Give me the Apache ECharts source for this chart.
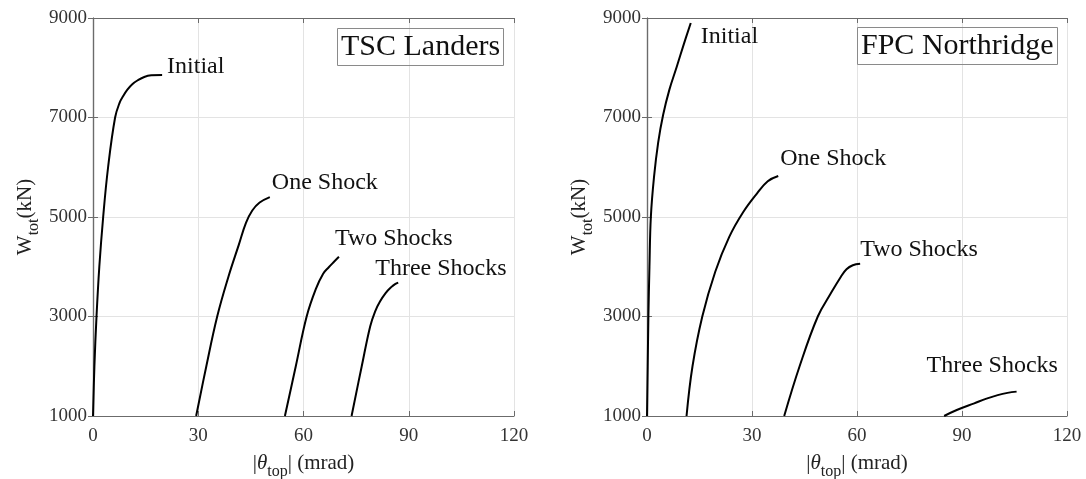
<!DOCTYPE html>
<html>
<head>
<meta charset="utf-8">
<script src="https://cdn.jsdelivr.net/npm/echarts@6/dist/echarts.min.js"></script>
<style>
  html, body { margin: 0; padding: 0; background: #fff; }
  #chart { width: 1086px; height: 479px; }
</style>
</head>
<body>
<div id="chart"></div>
<script>
// Pushover curves: total weight W_tot (kN) vs top rotation |theta_top| (mrad)
const xTicks = [0, 30, 60, 90, 120];
const yTicks = [1000, 3000, 5000, 7000, 9000];
const curveNames = ['Initial', 'One Shock', 'Two Shocks', 'Three Shocks'];

// TSC Landers: [theta (mrad), W (kN)]
const tscInitial = [[0, 1000], [0.4, 2000], [1.0, 3000], [1.8, 4000], [2.9, 5000], [4.3, 6000], [6.3, 7000], [7.6, 7300], [8.6, 7430], [9.8, 7560], [11.2, 7670], [12.8, 7750], [14.6, 7815], [16.6, 7848], [19.7, 7856]];
const tscOne = [[29.4, 1000], [32.3, 2000], [35.4, 3000], [38.6, 3800], [41.6, 4450], [43.6, 4880], [45.4, 5130], [47.5, 5290], [50.4, 5400]];
const tscTwo = [[54.7, 1000], [57.8, 2000], [60.9, 3000], [63.5, 3550], [65.6, 3860], [67.2, 3990], [68.7, 4100], [70.1, 4200]];
const tscThree = [[73.7, 1000], [76.6, 2000], [79.0, 2800], [80.4, 3100], [81.8, 3300], [83.4, 3470], [85.0, 3590], [86.1, 3650], [87.0, 3680]];

// FPC Northridge
const fpcInitial = [[0, 1000], [0.2, 2000], [0.4, 3000], [0.7, 4000], [1.1, 5000], [2.0, 5800], [3.2, 6500], [4.6, 7050], [6.4, 7560], [8.5, 8020], [10.5, 8470], [12.5, 8900]];
const fpcOne = [[11.3, 1000], [13.0, 2000], [15.8, 3000], [19.5, 3900], [23.5, 4600], [27.5, 5100], [31.5, 5480], [34.5, 5720], [37.5, 5825]];
const fpcTwo = [[39.2, 1000], [43.6, 2000], [48.8, 3000], [52.4, 3450], [55.4, 3800], [57.0, 3950], [58.8, 4030], [60.9, 4060]];
const fpcThree = [[84.9, 1000], [88.5, 1120], [93.5, 1255], [97.0, 1350], [100.2, 1420], [103.0, 1465], [105.6, 1490]];

const serif = '"Liberation Serif", "Times New Roman", serif';
const axisColor = '#6b6b6b';

const panels = [
  { title: 'TSC Landers', left: 93, width: 421, curves: [tscInitial, tscOne, tscTwo, tscThree],
    titleLeft: 337, titleTop: 28,
    offsets: [[0, -8], [-3, -14], [-9, -18], [-28, -14]] },
  { title: 'FPC Northridge', left: 647, width: 420, curves: [fpcInitial, fpcOne, fpcTwo, fpcThree],
    titleLeft: 857, titleTop: 27,
    offsets: [[5, 14], [-3, -17], [-5, -14], [-95, -26]] }
];

const gridTop = 18, gridHeight = 398;

const grid = [], xAxis = [], yAxis = [], series = [], title = [];

const xName = '{m||}{i|θ}{s|top}{m|| (mrad)}';
const yName = '{m|W}{s|tot}{m|(kN)}';
const nameRich = {
  m: { fontFamily: serif, fontSize: 21, color: '#222', verticalAlign: 'top' },
  i: { fontFamily: serif, fontSize: 21, color: '#222', fontStyle: 'italic', verticalAlign: 'top' },
  s: { fontFamily: serif, fontSize: 16, color: '#222', verticalAlign: 'top', padding: [11, 0, 0, 0] }
};

panels.forEach((p, k) => {
  grid.push({
    left: p.left, top: gridTop, width: p.width, height: gridHeight,
    containLabel: false, outerBoundsMode: 'none'
  });
  const base = {
    gridIndex: k, type: 'value',
    axisLine: { show: true, lineStyle: { color: axisColor, width: 1.2 } },
    axisTick: { show: true, inside: true, length: 5, lineStyle: { color: axisColor } }
  };
  // bottom x axis with labels
  xAxis.push(Object.assign({}, base, {
    position: 'bottom', min: xTicks[0], max: xTicks[xTicks.length - 1], interval: 30,
    axisLabel: { color: '#333', fontFamily: serif, fontSize: 19, margin: 11 },
    splitLine: { show: true, lineStyle: { color: '#e3e3e3', width: 1 } },
    name: xName, nameLocation: 'middle', nameGap: 37,
    nameTextStyle: { rich: nameRich }
  }));
  // top x axis: box edge with ticks only
  xAxis.push(Object.assign({}, base, {
    position: 'top', min: xTicks[0], max: xTicks[xTicks.length - 1], interval: 30,
    axisLabel: { show: false }, splitLine: { show: false }
  }));
  yAxis.push(Object.assign({}, base, {
    position: 'left', min: yTicks[0], max: yTicks[yTicks.length - 1], interval: 2000,
    axisLabel: { color: '#333', fontFamily: serif, fontSize: 19, margin: 6, formatter: v => String(v) },
    splitLine: { show: true, lineStyle: { color: '#e3e3e3', width: 1 } },
    name: yName, nameLocation: 'middle', nameGap: 51, nameRotate: 90,
    nameTextStyle: { rich: nameRich }
  }));
  yAxis.push(Object.assign({}, base, {
    position: 'right', min: yTicks[0], max: yTicks[yTicks.length - 1], interval: 2000,
    axisLabel: { show: false }, splitLine: { show: false }
  }));

  p.curves.forEach((data, j) => {
    series.push({
      type: 'line', name: curveNames[j],
      xAxisIndex: 2 * k, yAxisIndex: 2 * k,
      data: data, showSymbol: false, symbol: 'none',
      smooth: 0.4,
      lineStyle: { color: '#000', width: 2 },
      endLabel: {
        show: true, formatter: curveNames[j], offset: p.offsets[j],
        fontFamily: serif, fontSize: 24, color: '#111', distance: 5
      },
      animation: false
    });
  });

  title.push({
    text: p.title, left: p.titleLeft, top: p.titleTop,
    borderColor: '#8a8a8a', borderWidth: 1, padding: [3, 4, 3, 4],
    textStyle: { fontFamily: serif, fontSize: 30, fontWeight: 'normal', color: '#111', lineHeight: 32 }
  });
});

const chart = echarts.init(document.getElementById('chart'), null, { renderer: 'canvas' });
chart.setOption({
  backgroundColor: '#fff',
  animation: false,
  title: title,
  grid: grid,
  xAxis: xAxis,
  yAxis: yAxis,
  series: series
});
</script>
</body>
</html>
